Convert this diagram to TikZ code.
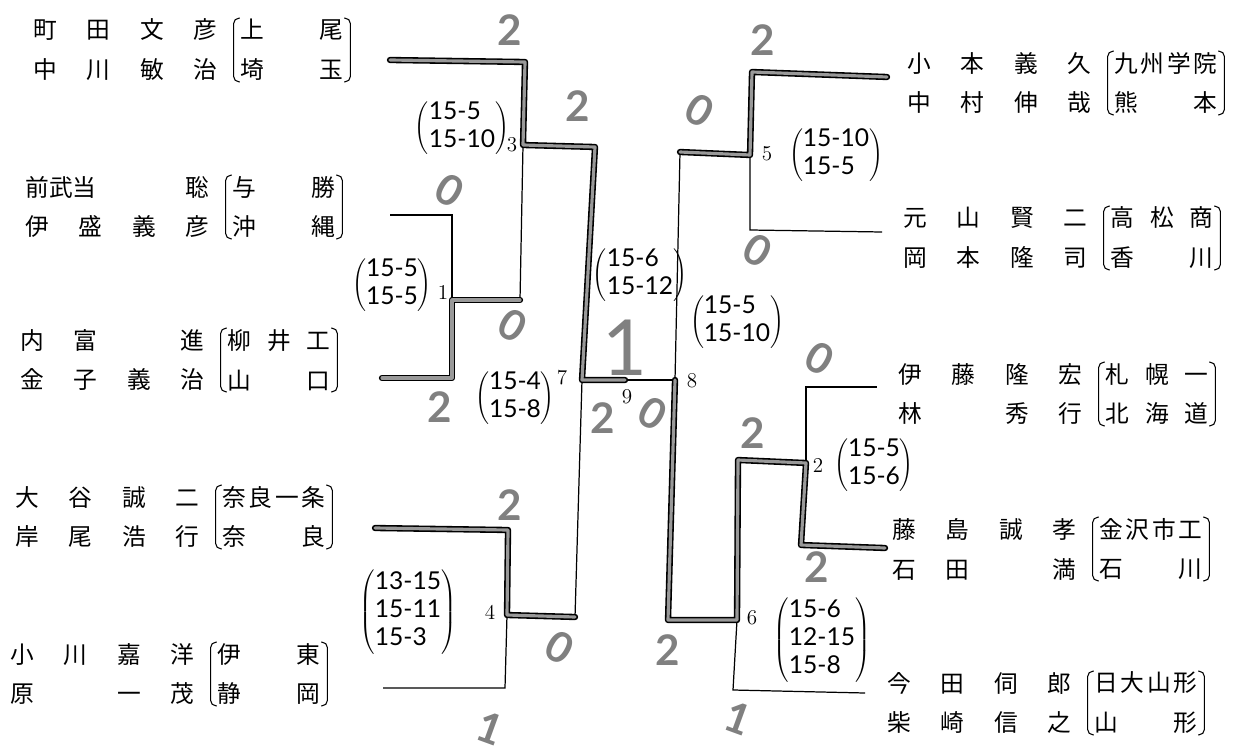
\documentclass[tikz,border=0pt]{standalone}
\usepackage{fontspec}
\newfontfamily\jp{Noto Sans CJK JP}
\newfontfamily\hand{Lato}
\usetikzlibrary{positioning}

\newcommand{\plname}[1]{\hbox to 3.68cm{#1}}
\newcommand{\sch}[1]{\hbox to 2.06cm{#1}}
\newcommand{\scores}[1]{$\left(\begin{tabular}{@{}l@{}}#1\end{tabular}\right)$}
\newcommand{\brackets}[1]{%
  \draw[brkline] ([xshift=3.5pt]#1.north west) -- (#1.north west) -- (#1.south west) -- ([xshift=3.5pt]#1.south west);
  \draw[brkline] ([xshift=-3.5pt]#1.north east) -- (#1.north east) -- (#1.south east) -- ([xshift=-3.5pt]#1.south east);}

\begin{document}
\begin{tikzpicture}[x=0.02cm, y=-0.02cm,
  player/.style={anchor=west, inner sep=0pt, align=left,
                 font=\jp\fontsize{13.5}{22.7}\selectfont},
  school/.style={inner ysep=0pt, inner xsep=0.13cm, minimum height=1.26cm,
                 align=left, font=\jp\fontsize{13.5}{22.7}\selectfont},
  brkline/.style={line width=0.6pt, rounded corners=3pt},
  thin/.style={line width=0.7pt},
  win/.style={line width=0.9pt, double=black!40, double distance=1.8pt,
              line join=round, line cap=round},
  num/.style={font=\fontsize{12}{12}\selectfont, inner sep=1pt},
  score/.style={font=\hand\fontsize{14}{16}\selectfont, inner sep=0pt},
  setmark/.style={font=\hand\bfseries\fontsize{24}{24}\selectfont, text=black!50, inner sep=0pt},
  zero/.style={setmark, rotate=-30},
]
\useasboundingbox (0,0) rectangle (1250,753);

% left half
\node[player] (p1) at (33,50) {\plname{町\hfill 田\hfill 文\hfill 彦}\\\plname{中\hfill 川\hfill 敏\hfill 治}};
\node[school, right=0.32cm of p1] (s1) {\sch{上\hfill 尾}\\\sch{埼\hfill 玉}};
\node[player] (p2) at (25,207) {\plname{前武当\hfill 聡}\\\plname{伊\hfill 盛\hfill 義\hfill 彦}};
\node[school, right=0.32cm of p2] (s2) {\sch{与\hfill 勝}\\\sch{沖\hfill 縄}};
\node[player] (p3) at (20,360) {\plname{内\hfill 富\hfill\hphantom{国}\hfill 進}\\\plname{金\hfill 子\hfill 義\hfill 治}};
\node[school, right=0.32cm of p3] (s3) {\sch{柳\hfill 井\hfill 工}\\\sch{山\hfill 口}};
\node[player] (p4) at (15,517) {\plname{大\hfill 谷\hfill 誠\hfill 二}\\\plname{岸\hfill 尾\hfill 浩\hfill 行}};
\node[school, right=0.32cm of p4] (s4) {\sch{奈\hfill 良\hfill 一\hfill 条}\\\sch{奈\hfill 良}};
\node[player] (p5) at (10,674) {\plname{小\hfill 川\hfill 嘉\hfill 洋}\\\plname{原\hfill\hphantom{国}\hfill 一\hfill 茂}};
\node[school, right=0.32cm of p5] (s5) {\sch{伊\hfill 東}\\\sch{静\hfill 岡}};

% right half
\node[player] (q1) at (907,83) {\plname{小\hfill 本\hfill 義\hfill 久}\\\plname{中\hfill 村\hfill 伸\hfill 哉}};
\node[school, right=0.32cm of q1] (t1) {\sch{九\hfill 州\hfill 学\hfill 院}\\\sch{熊\hfill 本}};
\node[player] (q2) at (903,238) {\plname{元\hfill 山\hfill 賢\hfill 二}\\\plname{岡\hfill 本\hfill 隆\hfill 司}};
\node[school, right=0.32cm of q2] (t2) {\sch{高\hfill 松\hfill 商}\\\sch{香\hfill 川}};
\node[player] (q3) at (898,394) {\plname{伊\hfill 藤\hfill 隆\hfill 宏}\\\plname{林\hfill\hphantom{国}\hfill 秀\hfill 行}};
\node[school, right=0.32cm of q3] (t3) {\sch{札\hfill 幌\hfill 一}\\\sch{北\hfill 海\hfill 道}};
\node[player] (q4) at (892,549) {\plname{藤\hfill 島\hfill 誠\hfill 孝}\\\plname{石\hfill 田\hfill\hphantom{国}\hfill 満}};
\node[school, right=0.32cm of q4] (t4) {\sch{金\hfill 沢\hfill 市\hfill 工}\\\sch{石\hfill 川}};
\node[player] (q5) at (887,703) {\plname{今\hfill 田\hfill 伺\hfill 郎}\\\plname{柴\hfill 崎\hfill 信\hfill 之}};
\node[school, right=0.32cm of q5] (t5) {\sch{日\hfill 大\hfill 山\hfill 形}\\\sch{山\hfill 形}};

\brackets{s1}\brackets{s2}\brackets{s3}\brackets{s4}\brackets{s5}
\brackets{t1}\brackets{t2}\brackets{t3}\brackets{t4}\brackets{t5}

% bracket joints
\coordinate (a1) at (390,60);  \coordinate (a2) at (390,215);
\coordinate (a3) at (382,378); \coordinate (a4) at (375,528);
\coordinate (a5) at (383,688);
\coordinate (m1t) at (452,215); \coordinate (m1o) at (452,300); \coordinate (m1b) at (452,378);
\coordinate (m3t) at (525,62);  \coordinate (m3o) at (523,145); \coordinate (m3b) at (520,300);
\coordinate (m4t) at (508,530); \coordinate (m4o) at (507,615); \coordinate (m4b) at (505,688);
\coordinate (r2t) at (595,147); \coordinate (m7) at (582,380);  \coordinate (m7b) at (575,617);
\coordinate (fin) at (625,380); \coordinate (m8) at (675,380);
\coordinate (b1) at (887,77);  \coordinate (b2) at (882,232);
\coordinate (b3) at (877,387); \coordinate (b4) at (885,548);
\coordinate (b5) at (865,693);
\coordinate (m5t) at (752,72);  \coordinate (m5o) at (750,155); \coordinate (m5b) at (750,230);
\coordinate (r8t) at (680,152); \coordinate (r8b) at (668,620);
\coordinate (m2t) at (806,387); \coordinate (m2o) at (806,463); \coordinate (m2b) at (801,545);
\coordinate (m6t) at (738,460); \coordinate (m6o) at (737,620); \coordinate (m6b) at (733,690);

% printed lines
\draw[thin] (a2) -- (m1t) -- (m1o);
\draw[thin] (m3o) -- (m3b);
\draw[thin] (m4o) -- (m4b) -- (a5);
\draw[thin] (m7) -- (m7b);
\draw[thin] (fin) -- (m8);
\draw[thin] (m5o) -- (m5b) -- (b2);
\draw[thin] (r8t) -- (m8);
\draw[thin] (m2o) -- (m2t) -- (b3);
\draw[thin] (m6o) -- (m6b) -- (b5);

% winners, pencil
\draw[win] (a1) -- (m3t) -- (m3o) -- (r2t) -- (m7) -- (fin);
\draw[win] (a3) -- (m1b) -- (m1o) -- (m3b);
\draw[win] (a4) -- (m4t) -- (m4o) -- (m7b);
\draw[win] (b1) -- (m5t) -- (m5o) -- (r8t);
\draw[win] (m8) -- (r8b) -- (m6o) -- (m6t) -- (m2o) -- (m2b) -- (b4);

% match numbers
\node[num] (n1) at (443,292) {1};
\node[num] (n2) at (818,465) {2};
\node[num] (n3) at (512,145) {3};
\node[num] (n4) at (490,612) {4};
\node[num] (n5) at (767,154) {5};
\node[num] (n6) at (752,618) {6};
\node[num] (n7) at (562,378) {7};
\node[num] (n8) at (692,381) {8};
\node[num] (n9) at (627,397) {9};

% game scores
\node[score] (g3) at (462,128) {\scores{15-5\\15-10}};
\node[score] (g1) at (392,285) {\scores{15-5\\15-5}};
\node[score] (g9) at (640,275) {\scores{15-6\\15-12}};
\node[score] (g7) at (515,398) {\scores{15-4\\15-8}};
\node[score] (g4) at (408,612) {\scores{13-15\\15-11\\15-3}};
\node[score] (g8) at (737,322) {\scores{15-5\\15-10}};
\node[score] (g5) at (836,155) {\scores{15-10\\15-5}};
\node[score] (g2) at (874,465) {\scores{15-5\\15-6}};
\node[score] (g6) at (822,640) {\scores{15-6\\12-15\\15-8}};

% set counts
\node[setmark] at (510,30) {2};
\node[setmark] at (578,106) {2};
\node[zero] at (450,190) {0};
\node[zero] at (513,325) {0};
\node[setmark] at (440,407) {2};
\node[setmark] at (603,418) {2};
\node[zero] at (653,413) {0};
\node[setmark] at (510,505) {2};
\node[zero] at (560,647) {0};
\node[setmark, rotate=-20] at (490,728) {1};
\node[setmark, font=\hand\fontsize{44}{44}\selectfont] at (625,348) {1};
\node[zero] at (700,110) {0};
\node[setmark] at (763,40) {2};
\node[zero] at (758,250) {0};
\node[zero] at (820,358) {0};
\node[setmark] at (753,433) {2};
\node[setmark] at (817,567) {2};
\node[setmark] at (668,650) {2};
\node[setmark, rotate=-20] at (738,718) {1};
\end{tikzpicture}
\end{document}
